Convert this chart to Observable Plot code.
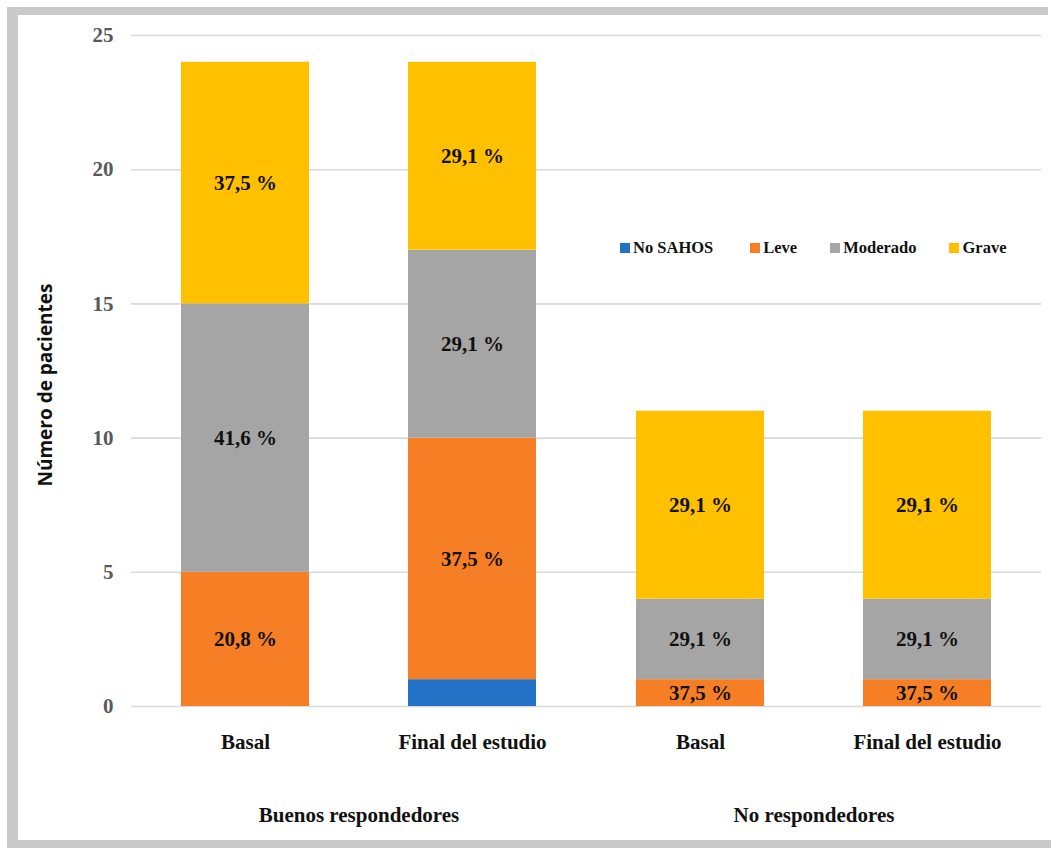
<!DOCTYPE html>
<html>
<head>
<meta charset="utf-8">
<script src="https://cdn.jsdelivr.net/npm/d3@7"></script>
<script src="https://cdn.jsdelivr.net/npm/@observablehq/plot@0.6"></script>
<style>
  html, body { margin: 0; padding: 0; background: #fff; }
  #page { position: relative; width: 1051px; height: 848px; overflow: hidden; }
  #chart { position: absolute; left: 0; top: 0; }
  .band { position: absolute; background: #c9c9c9; }
  #legend {
    position: absolute; top: 238px; left: 620px;
    display: flex; align-items: center;
    font-family: "Liberation Serif", "Times New Roman", serif;
    font-weight: bold; font-size: 16.5px; color: #111;
  }
  #legend .item { display: flex; align-items: center; margin-right: 33px; }
  #legend .item:first-child { margin-right: 37px; }
  #legend .sw { width: 10px; height: 10px; margin-right: 3px; }
</style>
</head>
<body>
<div id="page">
  <div id="chart"></div>
  <div class="band" style="left:7px;top:7px;width:1041px;height:8px"></div>
  <div class="band" style="left:7px;top:7px;width:11px;height:841px"></div>
  <div class="band" style="left:7px;top:840px;width:1044px;height:8px"></div>
  <div id="legend"></div>
</div>
<script>
// Patient groups and the two moments measured in each
const groups = ["Buenos respondedores", "Buenos respondedores", "No respondedores", "No respondedores"];
const moments = ["Basal", "Final del estudio", "Basal", "Final del estudio"];

// Severity categories, bottom to top of each stack
const severities = ["No SAHOS", "Leve", "Moderado", "Grave"];
const severityColors = ["#2271c4", "#f67f26", "#a5a5a5", "#ffc000"];

// Number of patients per severity
const noSahos = [0, 1, 0, 0];
const leve = [5, 9, 1, 1];
const moderado = [10, 7, 3, 3];
const grave = [9, 7, 7, 7];

// Percentage labels printed on each segment
const noSahosLabels = ["", "", "", ""];
const leveLabels = ["20,8 %", "37,5 %", "37,5 %", "37,5 %"];
const moderadoLabels = ["41,6 %", "29,1 %", "29,1 %", "29,1 %"];
const graveLabels = ["37,5 %", "29,1 %", "29,1 %", "29,1 %"];

const yTicks = [0, 5, 10, 15, 20, 25];

const counts = [noSahos, leve, moderado, grave];
const labels = [noSahosLabels, leveLabels, moderadoLabels, graveLabels];

const rows = [];
severities.forEach((s, si) => {
  groups.forEach((g, i) => {
    rows.push({group: g, moment: moments[i], severity: s, n: counts[si][i], label: labels[si][i]});
  });
});

const serif = "Liberation Serif, Times New Roman, serif";

const plot = Plot.plot({
  width: 1051,
  height: 848,
  marginLeft: 130,
  marginRight: 10,
  marginTop: 35,
  marginBottom: 142,
  style: {fontFamily: serif, background: "transparent"},
  fx: {domain: ["Buenos respondedores", "No respondedores"], padding: 0},
  x: {domain: ["Basal", "Final del estudio"], paddingInner: 0.437, paddingOuter: 0.219},
  y: {domain: [0, 25]},
  color: {domain: severities, range: severityColors},
  marks: [
    Plot.ruleY(yTicks, {stroke: "#d9d9d9", strokeWidth: 1.6}),
    Plot.barY(rows, Plot.stackY({fx: "group", x: "moment", y: "n", fill: "severity", order: severities})),
    Plot.text(rows, Plot.stackY({
      fx: "group", x: "moment", y: "n", z: "severity", order: severities,
      text: "label", fill: "#111", fontSize: 21, fontWeight: "bold", fontFamily: serif
    })),
    Plot.axisY({ticks: yTicks, tickSize: 0, tickPadding: 18, label: null,
      fontSize: 21, fontWeight: "bold", fill: "#595959", fontFamily: serif}),
    Plot.axisX({tickSize: 0, tickPadding: 28, label: null,
      fontSize: 21, fontWeight: "bold", fill: "#111", fontFamily: serif}),
    Plot.axisFx({anchor: "bottom", tickSize: 0, tickPadding: 101, label: null,
      fontSize: 21, fontWeight: "bold", fill: "#111", fontFamily: serif})
  ]
});

// Vertical axis title
d3.select(plot).append("text")
  .attr("transform", "translate(45,385) rotate(-90)")
  .attr("text-anchor", "middle")
  .attr("dominant-baseline", "central")
  .attr("font-family", "Open Sans, DejaVu Sans, sans-serif")
  .attr("font-weight", "bold")
  .attr("font-size", 19)
  .attr("fill", "#111")
  .text("Número de pacientes");

document.getElementById("chart").append(plot);

// Legend
const legend = d3.select("#legend");
severities.forEach((s, i) => {
  const item = legend.append("div").attr("class", "item");
  item.append("div").attr("class", "sw").style("background", severityColors[i]);
  item.append("span").text(s);
});
</script>
</body>
</html>
